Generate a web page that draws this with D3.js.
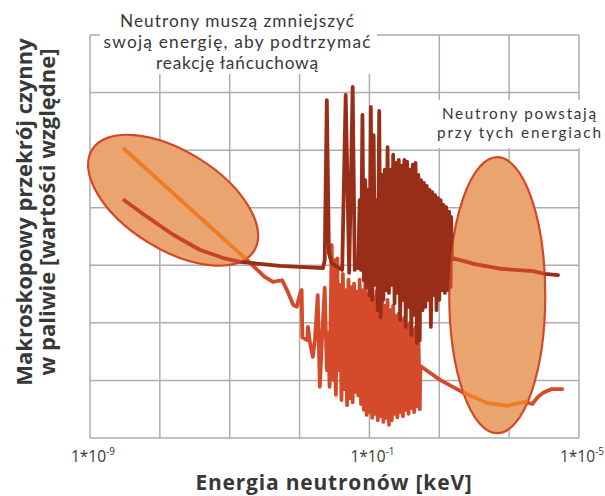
<!DOCTYPE html>
<html><head><meta charset="utf-8">
<script src="https://cdn.jsdelivr.net/npm/d3@7"></script>
<style>
body{margin:0;background:#fff}
svg{display:block;font-family:"Open Sans",sans-serif}
</style>
</head><body>
<svg id="chart" width="605" height="496"></svg>
<script>
// ---- data: x = log10(energy), y = relative cross-section (grid units) ----
const gridX = [-9, -8, -7, -6, -5, -4, -3, -2];
const gridY = [0, 1, 2, 3, 4, 5, 6, 7];
const tickPos = [-9, -5, -2];
const tickBase = ["1*10", "1*10", "1*10"];
const tickExp = ["-9", "-1", "-5"];

// lower series (red-orange, orange where inside the highlighted regions)
const lowX = [-8.51, -6.75, -6.50, -6.38, -6.25, -6.18, -6.09, -6.04, -5.99, -5.97, -5.96, -5.89, -5.88, -5.85, -5.81, -5.78, -5.74, -5.71, -5.68, -5.64, -5.61, -5.59, -5.57, -5.54,
  -5.52, -5.50, -5.48, -5.46, -5.44, -5.42, -5.40, -5.38, -5.36, -5.34, -5.32, -5.30, -5.28, -5.26, -5.24, -5.22, -5.20, -5.18, -5.16, -5.14, -5.12, -5.10, -5.08, -5.06, -5.04, -5.02, -5.00,
  -4.98, -4.96, -4.94, -4.92, -4.90, -4.88, -4.86, -4.84, -4.82, -4.80, -4.78, -4.76, -4.74, -4.72, -4.70, -4.68, -4.66, -4.64, -4.62, -4.60, -4.58, -4.56, -4.54, -4.52, -4.50,
  -4.48, -4.46, -4.44, -4.42, -4.40, -4.38, -4.36, -4.34, -4.32, -4.30, -4.28,
  -4.27, -3.99, -3.675, -3.317, -3.03, -2.77, -2.67, -2.59, -2.52, -2.39, -2.24];
const lowY = [5.02, 3.09, 2.80, 2.71, 2.74, 2.57, 2.31, 2.28, 2.52, 2.57, 1.75, 1.70, 1.93, 1.65, 1.41, 1.70, 2.48, 0.89, 1.70, 2.61, 1.18, 1.82, 0.89, 3.35,
  1.01, 3.09, 0.75, 3.12, 1.18, 2.66, 0.66, 2.85, 0.85, 2.57, 0.57, 2.75, 0.69, 2.62, 0.62, 2.68, 0.80, 2.54, 0.74, 2.75, 0.59, 2.57, 0.49, 2.70, 0.40, 2.50, 0.45,
  2.62, 0.35, 2.45, 0.42, 2.55, 0.31, 2.40, 0.38, 2.48, 0.28, 2.30, 0.35, 2.40, 0.23, 2.22, 0.31, 2.30, 0.42, 2.12, 0.36, 2.16, 0.45, 2.05, 0.38, 2.09,
  0.49, 1.95, 0.42, 2.00, 0.52, 1.88, 0.45, 1.92, 0.55, 1.85, 0.50,
  1.25, 1.01, 0.80, 0.61, 0.56, 0.63, 0.59, 0.71, 0.78, 0.85, 0.85];

// upper series (dark red)
const highX = [-8.51, -8.18, -7.81, -7.43, -7.10, -6.85, -6.61, -6.28, -5.665, -5.64, -5.61, -5.58, -5.54, -5.46, -5.39, -5.34, -5.29, -5.24, -5.21, -5.18,
  -5.16, -5.14, -5.12, -5.10, -5.08, -5.06, -5.04, -5.02, -5.00, -4.98, -4.96, -4.94, -4.92, -4.90, -4.88, -4.86, -4.84, -4.82, -4.80, -4.78, -4.76, -4.74,
  -4.72, -4.70, -4.68, -4.66, -4.64, -4.62, -4.60, -4.58, -4.56, -4.54, -4.52, -4.50, -4.48, -4.46, -4.44, -4.42, -4.40, -4.38, -4.36, -4.34, -4.32, -4.30,
  -4.28, -4.26, -4.24, -4.22, -4.20, -4.18, -4.16, -4.14, -4.12, -4.10, -4.08, -4.06, -4.04, -4.02, -4.00, -3.98, -3.96, -3.94, -3.92, -3.90, -3.88, -3.86, -3.84, -3.83,
  -3.82, -3.49, -3.13, -2.66, -2.49, -2.30];
const highY = [4.13, 3.84, 3.53, 3.27, 3.13, 3.06, 3.03, 2.99, 2.95, 3.09, 5.87, 3.21, 3.04, 2.97, 2.92, 5.96, 2.87, 6.10, 2.92, 3.04,
  2.95, 4.13, 2.92, 5.61, 2.74, 4.48, 2.62, 4.31, 2.48, 5.75, 2.40, 5.26, 2.66, 4.13, 2.22, 5.68, 2.10, 4.57, 2.40, 4.66, 2.57, 5.05,
  2.52, 4.66, 2.66, 4.92, 2.34, 4.78, 2.52, 4.83, 2.05, 4.73, 2.40, 4.83, 1.93, 4.80, 2.28, 4.66, 1.79, 4.75, 2.14, 4.78, 1.65, 4.57,
  1.70, 4.48, 2.22, 4.43, 2.28, 4.38, 2.40, 4.31, 1.93, 4.27, 2.48, 4.22, 2.22, 4.17, 2.40, 4.13, 2.57, 4.05, 2.52, 4.01, 2.57, 3.93, 2.62, 3.84,
  3.13, 3.02, 2.94, 2.90, 2.85, 2.83];

// ---- drawing ----
const W = 605, H = 496;
const x = d3.scaleLinear().domain([-9, -2]).range([90, 579]);
const y = d3.scaleLinear().domain([0, 7]).range([438, 35]);
const svg = d3.select("#chart");
const defs = svg.append("defs");

const GRID = "#adadad", TXT = "#383838";
const C_DARK = "#992e18", C_RED = "#d44a2a", C_ORANGE = "#ef7b22", C_DARK_IN = "#c9432a";
const C_FILL = "#eaa46f", C_EDGE = "#d4482a";

// grid
const g = svg.append("g");
g.selectAll(".vx").data(gridX).join("line")
  .attr("x1", d => x(d)).attr("x2", d => x(d)).attr("y1", y(7)).attr("y2", y(0))
  .attr("stroke", GRID).attr("stroke-width", 1.5);
g.selectAll(".hy").data(gridY).join("line")
  .attr("y1", d => y(d)).attr("y2", d => y(d)).attr("x1", x(-9)).attr("x2", x(-2))
  .attr("stroke", GRID).attr("stroke-width", 1.5);

// white boxes behind annotations
svg.append("rect").attr("x", 100).attr("y", 28).attr("width", 277).attr("height", 46).attr("fill", "#fff");
svg.append("rect").attr("x", 431).attr("y", 100).attr("width", 174).attr("height", 48).attr("fill", "#fff");

// highlighted regions (ellipses)
const ellipses = [
  {cx: x(-7.81), cy: y(4.13), rx: 95.5, ry: 49, rot: 32},
  {cx: x(-3.17), cy: y(2.48), rx: 48, ry: 138, rot: 0}
];
function addEll(sel) {
  return sel.selectAll("ellipse").data(ellipses).join("ellipse")
    .attr("cx", d => d.cx).attr("cy", d => d.cy).attr("rx", d => d.rx).attr("ry", d => d.ry)
    .attr("transform", d => `rotate(${d.rot},${d.cx},${d.cy})`);
}
const clip = defs.append("clipPath").attr("id", "inside");
addEll(clip);
const mask = defs.append("mask").attr("id", "outside").attr("maskUnits", "userSpaceOnUse")
  .attr("x", 0).attr("y", 0).attr("width", W).attr("height", H);
mask.append("rect").attr("width", W).attr("height", H).attr("fill", "#fff");
addEll(mask).attr("fill", "#000");

addEll(svg.append("g")).attr("fill", C_FILL).attr("stroke", C_EDGE).attr("stroke-width", 2.2);

// lines
const line = d3.line().x(d => x(d[0])).y(d => y(d[1]));
const low = lowX.map((v, i) => [v, lowY[i]]);
const high = highX.map((v, i) => [v, highY[i]]);
function drawLine(parent, data, color) {
  parent.append("path").attr("d", line(data)).attr("fill", "none").attr("stroke", color)
    .attr("stroke-width", 3.8).attr("stroke-linejoin", "round").attr("stroke-linecap", "round");
}
const outG = svg.append("g").attr("mask", "url(#outside)");
drawLine(outG, low, C_RED);
drawLine(outG, high, C_DARK);
const inG = svg.append("g").attr("clip-path", "url(#inside)");
drawLine(inG, low, C_ORANGE);
drawLine(inG, high, C_DARK_IN);

// axis tick labels
const tl = svg.append("g").attr("fill", TXT).attr("font-size", 15.5).attr("text-anchor", "middle");
tickPos.forEach((p, i) => {
  const t = tl.append("text").attr("x", x(p) + 3).attr("y", 462);
  t.append("tspan").text(tickBase[i]);
  t.append("tspan").attr("font-size", 10).attr("dy", -7).text(tickExp[i]);
});

// axis titles
svg.append("text").attr("x", 334).attr("y", 490).attr("text-anchor", "middle")
  .attr("font-size", 21).attr("font-weight", 700).attr("fill", TXT).attr("letter-spacing", 0.8)
  .text("Energia neutronów [keV]");
const yt = svg.append("g").attr("transform", "translate(0,212) rotate(-90)")
  .attr("text-anchor", "middle").attr("font-size", 22).attr("font-weight", 700).attr("fill", TXT);
yt.append("text").attr("x", 0).attr("y", 32).text("Makroskopowy przekrój czynny");
yt.append("text").attr("x", 0).attr("y", 55).text("w paliwie [wartości względne]");

// annotations (Lato: tighter line box so stacked lines do not collide)
const ann1 = ["Neutrony muszą zmniejszyć", "swoją energię, aby podtrzymać", "reakcję łańcuchową"];
const ann1W = [234, 267, 162];
ann1.forEach((s, i) =>
  svg.append("text").attr("text-anchor", "middle").attr("font-family", "Lato, sans-serif")
    .attr("font-size", 17.3).attr("fill", TXT)
    .attr("x", 237).attr("y", 27 + i * 21)
    .attr("textLength", ann1W[i]).attr("lengthAdjust", "spacing").text(s));
const ann2 = ["Neutrony powstają", "przy tych energiach"];
const ann2W = [154, 164];
ann2.forEach((s, i) =>
  svg.append("text").attr("text-anchor", "middle").attr("font-family", "Lato, sans-serif")
    .attr("font-size", 15.3).attr("fill", TXT)
    .attr("x", 519).attr("y", 119 + i * 18.6)
    .attr("textLength", ann2W[i]).attr("lengthAdjust", "spacing").text(s));
</script>
</body></html>
